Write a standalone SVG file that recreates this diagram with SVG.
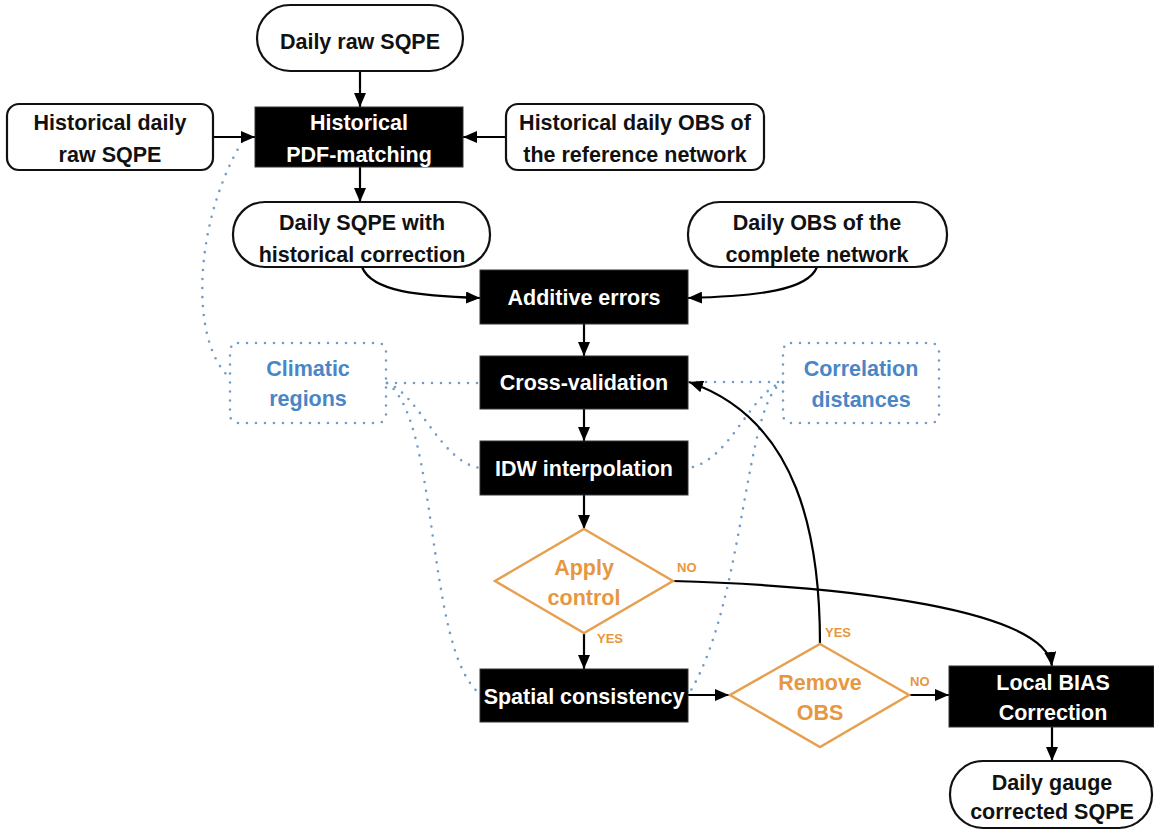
<svg xmlns="http://www.w3.org/2000/svg" width="1154" height="833" viewBox="0 0 1154 833">
<defs>
<marker id="arr" viewBox="0 0 14 12" refX="14" refY="6" markerWidth="14" markerHeight="12" markerUnits="userSpaceOnUse" orient="auto"><path d="M0,0 L14,6 L0,12 z" fill="#000"/></marker>
<style>
.t{font-family:"Liberation Sans",Arial,sans-serif;font-weight:bold;font-size:21.5px;text-anchor:middle}
.bk{fill:#111}
.wh{fill:#fff}
.bl{fill:#4a86c6}
.or{fill:#e6973f}
.sm{font-family:"Liberation Sans",Arial,sans-serif;font-weight:bold;font-size:13px;fill:#e6973f}
.ow{fill:#fff;stroke:#111;stroke-width:2.2}
.blk{fill:#000;stroke:#333;stroke-width:1}
.dia{fill:#fff;stroke:#e6a050;stroke-width:2.5}
.dotbox{fill:none;stroke:#6f9cc9;stroke-width:2.6;stroke-dasharray:0 9;stroke-linecap:round}
.con{fill:none;stroke:#000;stroke-width:2.2}
.dot{fill:none;stroke:#6f9cc9;stroke-width:2.6;stroke-dasharray:0 9;stroke-linecap:round}
</style>
</defs>
<rect width="1154" height="833" fill="#fff"/>

<g id="connectors">
<g id="dotted">
<path class="dot" d="M242,142 C195,220 188,340 230,378"/>
<path class="dot" d="M387,383 L480,383"/>
<path class="dot" d="M387,383 C420,395 440,462 480,468"/>
<path class="dot" d="M387,383 C440,420 425,650 480,694"/>
<path class="dot" d="M688,382 L783,382"/>
<path class="dot" d="M783,382 C750,392 730,462 688,468"/>
<path class="dot" d="M783,382 C745,400 745,600 690,692"/>
</g>
<line class="con" x1="360" y1="71" x2="360" y2="107" marker-end="url(#arr)"/>
<line class="con" x1="213" y1="137" x2="255" y2="137" marker-end="url(#arr)"/>
<line class="con" x1="506" y1="137" x2="463" y2="137" marker-end="url(#arr)"/>
<line class="con" x1="360" y1="167" x2="360" y2="202" marker-end="url(#arr)"/>
<path class="con" d="M362,267 C372,292 420,296 480,298" marker-end="url(#arr)"/>
<path class="con" d="M817,267 C808,290 760,296 688,298" marker-end="url(#arr)"/>
<line class="con" x1="584" y1="324" x2="584" y2="356" marker-end="url(#arr)"/>
<line class="con" x1="584" y1="409" x2="584" y2="441" marker-end="url(#arr)"/>
<line class="con" x1="584" y1="495" x2="584" y2="529" marker-end="url(#arr)"/>
<line class="con" x1="584" y1="633" x2="584" y2="669" marker-end="url(#arr)"/>
<line class="con" x1="688" y1="695" x2="729" y2="695" marker-end="url(#arr)"/>
<line class="con" x1="909" y1="695" x2="949" y2="695" marker-end="url(#arr)"/>
<path class="con" d="M673,581 C850,586 1045,610 1052,666" marker-end="url(#arr)"/>
<path class="con" d="M820,644 C820,540 800,420 689,382" marker-end="url(#arr)"/>
<line class="con" x1="1052" y1="727" x2="1052" y2="761" marker-end="url(#arr)"/>
<text class="sm" x="677" y="572">NO</text>
<text class="sm" x="597" y="643">YES</text>
<text class="sm" x="825" y="637">YES</text>
<text class="sm" x="910" y="686">NO</text>
</g>

<g id="daily-raw">
<rect class="ow" x="257" y="5" width="206" height="66" rx="33"/>
<text class="t bk" x="360" y="49">Daily raw SQPE</text>
</g>
<g id="hist-raw">
<rect class="ow" x="7" y="104" width="206" height="66" rx="12"/>
<text class="t bk" x="110" y="130">Historical daily</text>
<text class="t bk" x="110" y="162">raw SQPE</text>
</g>
<g id="pdf-matching">
<rect class="blk" x="255" y="107" width="208" height="60"/>
<text class="t wh" x="359" y="130">Historical</text>
<text class="t wh" x="359" y="162">PDF-matching</text>
</g>
<g id="hist-obs">
<rect class="ow" x="506" y="104" width="258" height="66" rx="12"/>
<text class="t bk" x="635" y="130">Historical daily OBS of</text>
<text class="t bk" x="635" y="162">the reference network</text>
</g>
<g id="daily-sqpe-hist">
<rect class="ow" x="233" y="202" width="257" height="65" rx="32"/>
<text class="t bk" x="362" y="230">Daily SQPE with</text>
<text class="t bk" x="362" y="262">historical correction</text>
</g>
<g id="daily-obs">
<rect class="ow" x="688" y="202" width="259" height="65" rx="32"/>
<text class="t bk" x="817" y="230">Daily OBS of the</text>
<text class="t bk" x="817" y="262">complete network</text>
</g>
<g id="additive">
<rect class="blk" x="480" y="270" width="208" height="54"/>
<text class="t wh" x="584" y="305">Additive errors</text>
</g>
<g id="cross-validation">
<rect class="blk" x="480" y="356" width="208" height="53"/>
<text class="t wh" x="584" y="390">Cross-validation</text>
</g>
<g id="idw">
<rect class="blk" x="480" y="441" width="208" height="54"/>
<text class="t wh" x="584" y="476">IDW interpolation</text>
</g>
<g id="climatic">
<rect class="dotbox" x="230" y="343" width="156" height="80" rx="8"/>
<text class="t bl" x="308" y="376">Climatic</text>
<text class="t bl" x="308" y="406">regions</text>
</g>
<g id="correlation">
<rect class="dotbox" x="783" y="343" width="156" height="80" rx="8"/>
<text class="t bl" x="861" y="376">Correlation</text>
<text class="t bl" x="861" y="407">distances</text>
</g>
<g id="apply-control">
<polygon class="dia" points="584,529 673,581 584,633 495,581"/>
<text class="t or" x="584" y="575">Apply</text>
<text class="t or" x="584" y="605">control</text>
</g>
<g id="spatial">
<rect class="blk" x="480" y="669" width="208" height="53"/>
<text class="t wh" x="584" y="704">Spatial consistency</text>
</g>
<g id="remove-obs">
<polygon class="dia" points="820,644 909,695 820,747 730,695"/>
<text class="t or" x="820" y="690">Remove</text>
<text class="t or" x="820" y="720">OBS</text>
</g>
<g id="local-bias">
<rect class="blk" x="949" y="666" width="205" height="61"/>
<text class="t wh" x="1053" y="690">Local BIAS</text>
<text class="t wh" x="1053" y="720">Correction</text>
</g>
<g id="daily-gauge">
<rect class="ow" x="950" y="761" width="202" height="67" rx="33"/>
<text class="t bk" x="1052" y="790">Daily gauge</text>
<text class="t bk" x="1052" y="819">corrected SQPE</text>
</g>
</svg>
